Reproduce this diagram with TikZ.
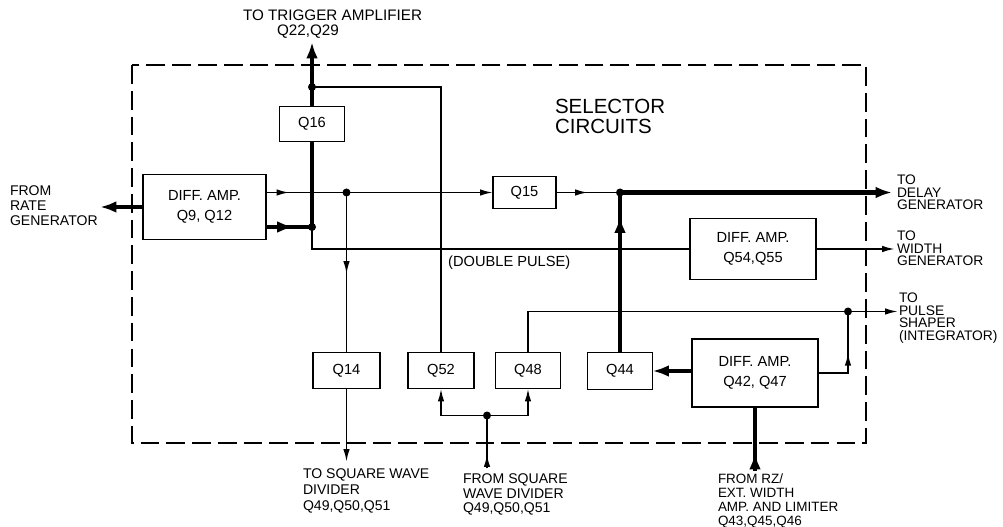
\documentclass[tikz,border=0pt]{standalone}
\usepackage{fontspec}
\setmainfont{Liberation Sans}
\usetikzlibrary{arrows.meta,decorations.markings}
\tikzset{
  stip/.tip={Latex[length=11pt,width=5.5pt]},
  btip/.tip={Latex[length=14pt,width=10pt]},
  thinl/.style={line width=1.5pt},
  thickl/.style={line width=3.5pt},
  selframe/.style={line width=1.4pt, dash pattern=on 16pt off 6pt},
  blk/.style={draw, line width=1.5pt, inner sep=0pt, outer sep=0pt, align=center,
              font=\fontsize{12.5}{16.5}\selectfont},
  lbl/.style={inner sep=0pt, outer sep=0pt, align=left, anchor=north west,
              font=\fontsize{12}{12.8}\selectfont},
  rlbl/.style={inner sep=0pt, outer sep=0pt, align=left, anchor=north west,
              font=\fontsize{11.8}{10.7}\selectfont},
  midarr/.style={postaction={decorate},
     decoration={markings, mark=at position #1 with {\arrow{stip}}}},
  midbig/.style={postaction={decorate},
     decoration={markings, mark=at position #1 with {\arrow{btip}}}},
  jdot/.style={fill=black},
}
\begin{document}
\begin{tikzpicture}[x=0.3mm,y=-0.3mm]
\useasboundingbox (0,0) rectangle (1003,527);

% selector circuits frame
\draw[selframe] (132,65) rectangle (866,443);

% blocks
\node[blk, minimum width=36.9mm, minimum height=19.5mm] (dA) at (204.5,207) {DIFF. AMP.\\Q9, Q12};
\node[blk, minimum width=19.5mm, minimum height=10.5mm] (q16) at (312,124) {Q16};
\node[blk, minimum width=18.9mm, minimum height=9.6mm] (q15) at (524.5,192.5) {Q15};
\node[blk, minimum width=37.8mm, minimum height=18.3mm] (dB) at (753,249) {DIFF. AMP.\\Q54,Q55};
\node[blk, minimum width=20.1mm, minimum height=10.8mm] (q14) at (346.5,370.5) {Q14};
\node[blk, minimum width=19.8mm, minimum height=10.8mm] (q52) at (441,370.5) {Q52};
\node[blk, minimum width=19.5mm, minimum height=10.8mm] (q48) at (528,370.5) {Q48};
\node[blk, minimum width=19.5mm, minimum height=11.1mm] (q44) at (620,371) {Q44};
\node[blk, minimum width=37.8mm, minimum height=20.4mm] (dC) at (755,373) {DIFF. AMP.\\Q42, Q47};

% labels
\node[lbl] (lrate) at (10,186) {FROM\\RATE\\GENERATOR};
\node[lbl, font=\fontsize{13}{13}\selectfont] (ltrig1) at (243,10) {TO TRIGGER AMPLIFIER};
\node[lbl, font=\fontsize{13}{13}\selectfont] (ltrig2) at (277,25) {Q22,Q29};
\node[lbl, font=\fontsize{17.5}{17}\selectfont] (lsel) at (555,99) {SELECTOR\\CIRCUITS};
\node[rlbl] (ldelay) at (897,175) {TO\\DELAY\\GENERATOR};
\node[rlbl] (lwidth) at (897,231) {TO\\WIDTH\\GENERATOR};
\node[rlbl] (lpulse) at (899,293) {TO\\PULSE\\SHAPER\\(INTEGRATOR)};
\node[inner sep=0pt, anchor=base west, font=\fontsize{12.5}{13}\selectfont] (ldbl) at (448,266.5) {(DOUBLE PULSE)};
\node[lbl, font=\fontsize{12}{13.5}\selectfont] (lsqout) at (303,469) {TO SQUARE WAVE\\DIVIDER\\Q49,Q50,Q51};
\node[lbl, font=\fontsize{12}{12.2}\selectfont] (lsqin) at (463,474) {FROM SQUARE\\WAVE DIVIDER\\Q49,Q50,Q51};
\node[lbl, font=\fontsize{11.5}{12}\selectfont] (lrz) at (718,474) {FROM RZ/\\EXT. WIDTH\\AMP. AND LIMITER\\Q43,Q45,Q46};

% connector points
\coordinate (trig) at (312,42);
\coordinate (dotT) at (312,87);
\coordinate (jn) at (312,227);
\coordinate (dotA) at (346.5,192.5);
\coordinate (dotD) at (620,192.5);
\coordinate (delay) at (892,192.5);
\coordinate (width) at (895,249);
\coordinate (pulse) at (898,311.5);
\coordinate (dotP) at (848,311.5);
\coordinate (rate) at (100,207);
\coordinate (sqout) at (346.5,462);
\coordinate (sqin) at (487,468);
\coordinate (dotS) at (487,415.5);
\coordinate (rzin) at (755,471);

% thick paths
\draw[thickl, -{btip}] (dA.west) -- (rate);
\draw[thickl, midbig=0.6] (dA.east |- jn) -- (jn);
\draw[thickl] (jn) -- (q16.south);
\draw[thickl, -{btip}] (q16.north) -- (trig);
\draw[thickl, -{btip}] (dotD) -- (delay);
\draw[thickl, midbig=0.85] (q44.north) -- (dotD);
\draw[thickl, -{btip}] (dC.west |- q44.east) -- (q44.east);
\draw[thickl] (rzin) -- (dC.south);
\draw[thickl, -{btip}] (rzin) -- ++(0,-18);

% thin paths
\draw[thinl] (dotT) -| (q52.north);
\draw[thinl] (jn) |- (dB.west);
\draw[thinl, midarr=20pt, -{stip}] (dA.east |- q15.west) -- (q15.west);
\draw[thinl, midarr=0.51] (dotA) -- (q14.north);
\draw[thinl, -{stip}] (q14.south) -- (sqout);
\draw[thinl, midarr=0.5] (q15.east) -- (dotD);
\draw[thinl, -{stip}] (dB.east) -- (width);
\draw[thinl, -{stip}] (q48.north) |- (pulse);
\draw[thinl, midarr=0.55] (dC.east) -| (dotP);
\draw[thinl] (sqin) -- (dotS);
\draw[thinl, -{stip}] (sqin) -- ++(0,-14);
\draw[thinl, -{stip}] (dotS) -| (q52.south);
\draw[thinl, -{stip}] (dotS) -| (q48.south);

% junction dots
\foreach \p in {dotT, jn, dotA, dotD, dotP, dotS}
  \fill[jdot] (\p) circle (1.2mm);
\end{tikzpicture}
\end{document}
